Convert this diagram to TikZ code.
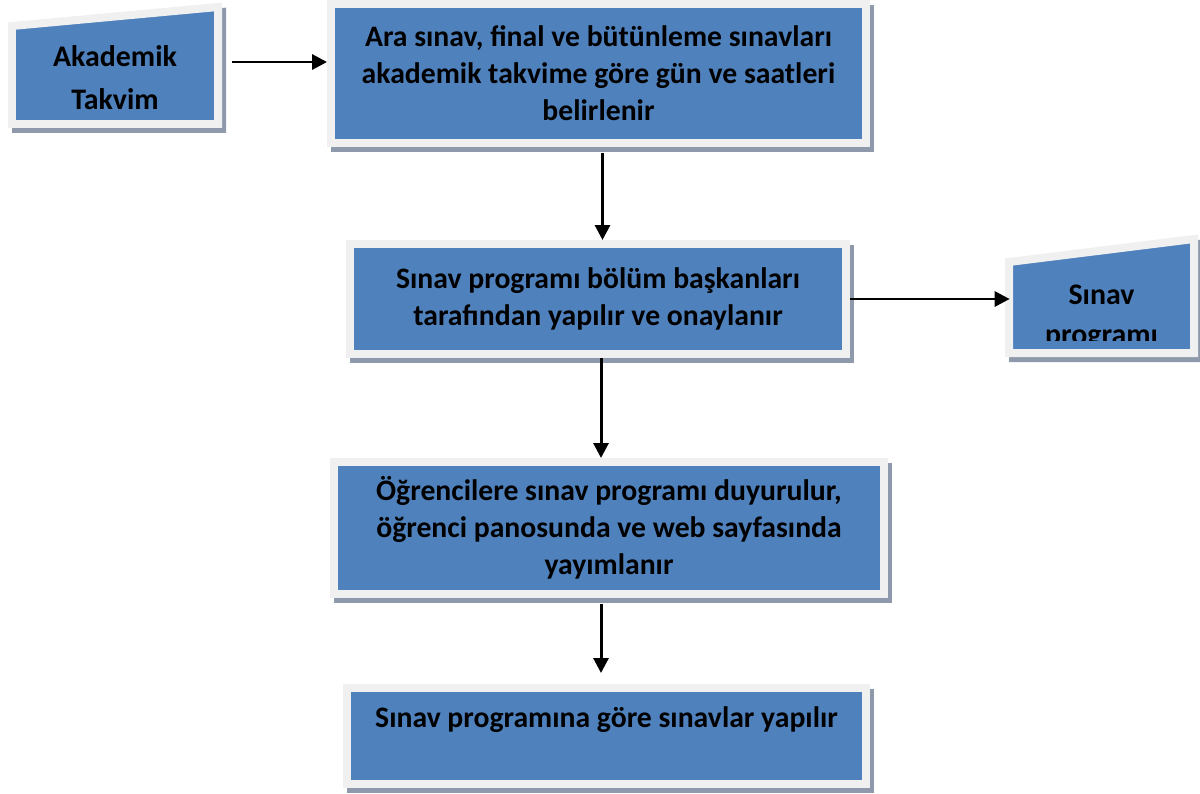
\documentclass[tikz,border=0pt]{standalone}
\usepackage{fontspec}
\setmainfont{Carlito}
\usetikzlibrary{arrows.meta,positioning,shadows}
\definecolor{boxblue}{HTML}{4F81BD}
\definecolor{boxrim}{HTML}{F0F0F0}
\definecolor{boxshade}{HTML}{8E9AAB}
\tikzset{
	procbox/.style={draw=boxrim,fill=boxblue,line width=0.16cm,inner sep=0pt,align=center,
		drop shadow={shadow xshift=0.08cm,shadow yshift=-0.1cm,fill=boxshade,draw=boxshade,line width=0.16cm,opacity=1}},
	inrim/.style={draw=boxrim,fill=boxblue,line width=0.16cm,line join=miter},
	txt/.style={inner sep=0pt,align=center},
	arr/.style={-{Triangle[length=0.3cm,width=0.3cm]},line width=1.7pt}
}

\begin{document}
\begin{tikzpicture}[x=0.02cm,y=-0.02cm,font=\fontsize{16.9}{21}\selectfont\bfseries]
	\useasboundingbox (0,0) rectangle (1200,794);
	\draw [inrim,shift={(4,5)},draw=boxshade,fill=boxshade] (12,26) -- (218,7) -- (218,124) -- (12,124) -- cycle;
	\draw [inrim] (12,26) -- (218,7) -- (218,124) -- (12,124) -- cycle;
	\node (takvim) [txt,minimum width=4.28cm,font=\fontsize{17}{24.4}\selectfont\bfseries] at (115,78) {Akademik\\Takvim};
	\node (ara) [procbox,minimum width=10.7cm,minimum height=2.78cm] at (598.5,73.5) {Ara sınav, final ve bütünleme sınavları\\akademik takvime göre gün ve saatleri\\belirlenir};
	\node (bolum) [procbox,minimum width=9.94cm,minimum height=2.2cm] at (598,299) {Sınav programı bölüm başkanları\\tarafından yapılır ve onaylanır};
	\draw [inrim,shift={(4,5)},draw=boxshade,fill=boxshade] (1009,262) -- (1194,239) -- (1194,353) -- (1009,353) -- cycle;
	\draw [inrim] (1009,262) -- (1194,239) -- (1194,353) -- (1009,353) -- cycle;
	\begin{scope}
		\clip (1013,245) rectangle (1190,340);
		\node (prog) [txt,minimum width=3.86cm,font=\fontsize{17}{22.5}\selectfont\bfseries] at (1101.5,317) {Sınav\\programı};
	\end{scope}
	\node (duyuru) [procbox,minimum width=11cm,minimum height=2.64cm] at (609,528) {Öğrencilere sınav programı duyurulur,\\öğrenci panosunda ve web sayfasında\\yayımlanır};
	\node (yapilir) [procbox,minimum width=10.38cm,minimum height=1.92cm] at (606.5,736) {Sınav programına göre sınavlar yapılır\\\mbox{}};
	\draw [arr,shorten <=0.2cm] ([yshift=0.32cm]takvim.east) -- ([yshift=0.32cm]takvim.east -| ara.west);
	\draw [arr,shorten <=0.12cm] ([xshift=0.08cm]ara.south) -- ([xshift=0.08cm]ara.south |- bolum.north);
	\draw [arr,shorten >=-0.1cm] (bolum.east) -- (bolum.east -| prog.west);
	\draw [arr] ([xshift=0.06cm]bolum.south) -- ([xshift=0.06cm]bolum.south |- duyuru.north);
	\draw [arr,shorten <=0.12cm,shorten >=0.22cm] ([xshift=0.06cm]bolum.south |- duyuru.south) -- ([xshift=0.06cm]bolum.south |- yapilir.north);
\end{tikzpicture}
\end{document}
